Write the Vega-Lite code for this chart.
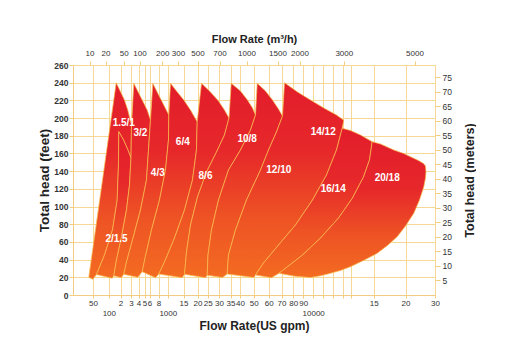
{
  "$schema": "https://vega.github.io/schema/vega-lite/v6.json",
  "width": 362,
  "height": 230,
  "padding": {"left": 37, "top": 33, "right": 0, "bottom": 10},
  "background": "white",
  "config": {
    "view": {"stroke": "#F2CC80", "strokeWidth": 1},
    "axis": {
      "gridColor": "#F6D896", "gridWidth": 1, "gridOpacity": 1,
      "domainColor": "#F2CC80", "tickColor": "#F2CC80",
      "labelColor": "#333333", "titleColor": "#222222",
      "labelFont": "Liberation Sans", "titleFont": "Liberation Sans",
      "titleFontWeight": "bold", "tickCount": 100, "labelOverlap": false
    }
  },
  "layer": [
    {
      "layer": [
        {
          "data": {"values": [
            {"model":"1.5/1","i":0,"gpm":44,"ft":20},{"model":"1.5/1","i":1,"gpm":163.2,"ft":240},{"model":"1.5/1","i":2,"gpm":200,"ft":229.8},{"model":"1.5/1","i":3,"gpm":238,"ft":220.4},{"model":"1.5/1","i":4,"gpm":269.5,"ft":209.1},{"model":"1.5/1","i":5,"gpm":288.6,"ft":199.7},{"model":"1.5/1","i":6,"gpm":306.7,"ft":192.2},{"model":"1.5/1","i":7,"gpm":300,"ft":154.9},{"model":"1.5/1","i":8,"gpm":266.7,"ft":165},{"model":"1.5/1","i":9,"gpm":228.6,"ft":175.2},{"model":"1.5/1","i":10,"gpm":185.5,"ft":184.6},{"model":"1.5/1","i":11,"gpm":182.9,"ft":147},{"model":"1.5/1","i":12,"gpm":171.8,"ft":107.4},{"model":"1.5/1","i":13,"gpm":131.6,"ft":73.5},{"model":"1.5/1","i":14,"gpm":86.4,"ft":45.2},{"model":"1.5/1","i":15,"gpm":61.1,"ft":23.2},{"model":"1.5/1","i":16,"gpm":49.7,"ft":17.7},{"model":"1.5/1","i":17,"gpm":44,"ft":20},
            {"model":"2/1.5","i":0,"gpm":61.1,"ft":23.2},{"model":"2/1.5","i":1,"gpm":86.4,"ft":45.2},{"model":"2/1.5","i":2,"gpm":131.6,"ft":73.5},{"model":"2/1.5","i":3,"gpm":171.8,"ft":107.4},{"model":"2/1.5","i":4,"gpm":182.9,"ft":147},{"model":"2/1.5","i":5,"gpm":185.5,"ft":184.6},{"model":"2/1.5","i":6,"gpm":228.6,"ft":175.2},{"model":"2/1.5","i":7,"gpm":266.7,"ft":165},{"model":"2/1.5","i":8,"gpm":300,"ft":154.9},{"model":"2/1.5","i":9,"gpm":285.7,"ft":124.3},{"model":"2/1.5","i":10,"gpm":257.1,"ft":96.1},{"model":"2/1.5","i":11,"gpm":209.5,"ft":65.6},{"model":"2/1.5","i":12,"gpm":165.8,"ft":39.6},{"model":"2/1.5","i":13,"gpm":142.7,"ft":21.8},{"model":"2/1.5","i":14,"gpm":129.1,"ft":18.9},{"model":"2/1.5","i":15,"gpm":61.1,"ft":23.2},
            {"model":"3/2","i":0,"gpm":142.7,"ft":21.8},{"model":"3/2","i":1,"gpm":165.8,"ft":39.6},{"model":"3/2","i":2,"gpm":209.5,"ft":65.6},{"model":"3/2","i":3,"gpm":257.1,"ft":96.1},{"model":"3/2","i":4,"gpm":285.7,"ft":124.3},{"model":"3/2","i":5,"gpm":300,"ft":154.9},{"model":"3/2","i":6,"gpm":306.7,"ft":192.2},{"model":"3/2","i":7,"gpm":337.3,"ft":239.3},{"model":"3/2","i":8,"gpm":382.7,"ft":231.7},{"model":"3/2","i":9,"gpm":461.7,"ft":220.4},{"model":"3/2","i":10,"gpm":554,"ft":209.1},{"model":"3/2","i":11,"gpm":622.2,"ft":197.8},{"model":"3/2","i":12,"gpm":580,"ft":163.9},{"model":"3/2","i":13,"gpm":540,"ft":130},{"model":"3/2","i":14,"gpm":433.3,"ft":96.1},{"model":"3/2","i":15,"gpm":320,"ft":62.2},{"model":"3/2","i":16,"gpm":257.1,"ft":37.3},{"model":"3/2","i":17,"gpm":231.4,"ft":23.4},{"model":"3/2","i":18,"gpm":206.7,"ft":19.6},{"model":"3/2","i":19,"gpm":142.7,"ft":21.8},
            {"model":"4/3","i":0,"gpm":231.4,"ft":23.4},{"model":"4/3","i":1,"gpm":257.1,"ft":37.3},{"model":"4/3","i":2,"gpm":320,"ft":62.2},{"model":"4/3","i":3,"gpm":433.3,"ft":96.1},{"model":"4/3","i":4,"gpm":540,"ft":130},{"model":"4/3","i":5,"gpm":580,"ft":163.9},{"model":"4/3","i":6,"gpm":622.2,"ft":197.8},{"model":"4/3","i":7,"gpm":673.3,"ft":239.3},{"model":"4/3","i":8,"gpm":784.4,"ft":228},{"model":"4/3","i":9,"gpm":914,"ft":214.8},{"model":"4/3","i":10,"gpm":1031.9,"ft":203.5},{"model":"4/3","i":11,"gpm":1022,"ft":175.2},{"model":"4/3","i":12,"gpm":950.5,"ft":141.3},{"model":"4/3","i":13,"gpm":821.5,"ft":107.4},{"model":"4/3","i":14,"gpm":644.4,"ft":73.5},{"model":"4/3","i":15,"gpm":520,"ft":44.1},{"model":"4/3","i":16,"gpm":461.7,"ft":26.3},{"model":"4/3","i":17,"gpm":390.7,"ft":20},{"model":"4/3","i":18,"gpm":231.4,"ft":23.4},
            {"model":"6/4","i":0,"gpm":461.7,"ft":26.3},{"model":"6/4","i":1,"gpm":520,"ft":44.1},{"model":"6/4","i":2,"gpm":644.4,"ft":73.5},{"model":"6/4","i":3,"gpm":821.5,"ft":107.4},{"model":"6/4","i":4,"gpm":950.5,"ft":141.3},{"model":"6/4","i":5,"gpm":1022,"ft":175.2},{"model":"6/4","i":6,"gpm":1031.9,"ft":203.5},{"model":"6/4","i":7,"gpm":1086,"ft":239.3},{"model":"6/4","i":8,"gpm":1277,"ft":230.6},{"model":"6/4","i":9,"gpm":1510.7,"ft":220.4},{"model":"6/4","i":10,"gpm":1750,"ft":209.1},{"model":"6/4","i":11,"gpm":1989,"ft":195.9},{"model":"6/4","i":12,"gpm":1964,"ft":163.9},{"model":"6/4","i":13,"gpm":1821,"ft":130},{"model":"6/4","i":14,"gpm":1535.7,"ft":96.1},{"model":"6/4","i":15,"gpm":1213,"ft":64.4},{"model":"6/4","i":16,"gpm":929,"ft":37.3},{"model":"6/4","i":17,"gpm":806.5,"ft":23.7},{"model":"6/4","i":18,"gpm":733.3,"ft":19.6},{"model":"6/4","i":19,"gpm":461.7,"ft":26.3},
            {"model":"8/6","i":0,"gpm":806.5,"ft":23.7},{"model":"8/6","i":1,"gpm":929,"ft":37.3},{"model":"8/6","i":2,"gpm":1213,"ft":64.4},{"model":"8/6","i":3,"gpm":1535.7,"ft":96.1},{"model":"8/6","i":4,"gpm":1821,"ft":130},{"model":"8/6","i":5,"gpm":1964,"ft":163.9},{"model":"8/6","i":6,"gpm":1989,"ft":195.9},{"model":"8/6","i":7,"gpm":2194,"ft":239.3},{"model":"8/6","i":8,"gpm":2620.5,"ft":229.5},{"model":"8/6","i":9,"gpm":2977.7,"ft":219.3},{"model":"8/6","i":10,"gpm":3239,"ft":209.1},{"model":"8/6","i":11,"gpm":3435,"ft":200.1},{"model":"8/6","i":12,"gpm":3239,"ft":180.9},{"model":"8/6","i":13,"gpm":2888,"ft":161.6},{"model":"8/6","i":14,"gpm":2437,"ft":139},{"model":"8/6","i":15,"gpm":2000,"ft":110.8},{"model":"8/6","i":16,"gpm":1750,"ft":79.1},{"model":"8/6","i":17,"gpm":1607,"ft":48.6},{"model":"8/6","i":18,"gpm":1535.7,"ft":23.4},{"model":"8/6","i":19,"gpm":1459,"ft":19.6},{"model":"8/6","i":20,"gpm":806.5,"ft":23.7},
            {"model":"10/8","i":0,"gpm":1535.7,"ft":23.4},{"model":"10/8","i":1,"gpm":1607,"ft":48.6},{"model":"10/8","i":2,"gpm":1750,"ft":79.1},{"model":"10/8","i":3,"gpm":2000,"ft":110.8},{"model":"10/8","i":4,"gpm":2437,"ft":139},{"model":"10/8","i":5,"gpm":2888,"ft":161.6},{"model":"10/8","i":6,"gpm":3239,"ft":180.9},{"model":"10/8","i":7,"gpm":3435,"ft":200.1},{"model":"10/8","i":8,"gpm":3537,"ft":239.3},{"model":"10/8","i":9,"gpm":4036,"ft":230.6},{"model":"10/8","i":10,"gpm":4543,"ft":220.4},{"model":"10/8","i":11,"gpm":4906,"ft":211.4},{"model":"10/8","i":12,"gpm":5113,"ft":203.5},{"model":"10/8","i":13,"gpm":4761,"ft":186.5},{"model":"10/8","i":14,"gpm":4036,"ft":163.9},{"model":"10/8","i":15,"gpm":3413,"ft":141.3},{"model":"10/8","i":16,"gpm":2977.7,"ft":107.4},{"model":"10/8","i":17,"gpm":2665,"ft":73.5},{"model":"10/8","i":18,"gpm":2509,"ft":45.2},{"model":"10/8","i":19,"gpm":2471,"ft":22.3},{"model":"10/8","i":20,"gpm":2388,"ft":19.6},{"model":"10/8","i":21,"gpm":1535.7,"ft":23.4},
            {"model":"12/10","i":0,"gpm":2471,"ft":22.3},{"model":"12/10","i":1,"gpm":2509,"ft":45.2},{"model":"12/10","i":2,"gpm":2665,"ft":73.5},{"model":"12/10","i":3,"gpm":2977.7,"ft":107.4},{"model":"12/10","i":4,"gpm":3413,"ft":141.3},{"model":"12/10","i":5,"gpm":4036,"ft":163.9},{"model":"12/10","i":6,"gpm":4761,"ft":186.5},{"model":"12/10","i":7,"gpm":5113,"ft":203.5},{"model":"12/10","i":8,"gpm":5227,"ft":239.3},{"model":"12/10","i":9,"gpm":5780,"ft":230.6},{"model":"12/10","i":10,"gpm":6291,"ft":220.4},{"model":"12/10","i":11,"gpm":6764,"ft":210.3},{"model":"12/10","i":12,"gpm":7085.5,"ft":202.3},{"model":"12/10","i":13,"gpm":6606,"ft":184.3},{"model":"12/10","i":14,"gpm":5980,"ft":163.9},{"model":"12/10","i":15,"gpm":5447,"ft":141.3},{"model":"12/10","i":16,"gpm":4471,"ft":107.4},{"model":"12/10","i":17,"gpm":3763,"ft":73.5},{"model":"12/10","i":18,"gpm":3413,"ft":45.2},{"model":"12/10","i":19,"gpm":3356,"ft":23.7},{"model":"12/10","i":20,"gpm":3152,"ft":19.8},{"model":"12/10","i":21,"gpm":2471,"ft":22.3},
            {"model":"14/12","i":0,"gpm":3356,"ft":23.7},{"model":"14/12","i":1,"gpm":3413,"ft":45.2},{"model":"14/12","i":2,"gpm":3763,"ft":73.5},{"model":"14/12","i":3,"gpm":4471,"ft":107.4},{"model":"14/12","i":4,"gpm":5447,"ft":141.3},{"model":"14/12","i":5,"gpm":5980,"ft":163.9},{"model":"14/12","i":6,"gpm":6606,"ft":184.3},{"model":"14/12","i":7,"gpm":7085.5,"ft":202.3},{"model":"14/12","i":8,"gpm":7256,"ft":240},{"model":"14/12","i":9,"gpm":8430,"ft":229.5},{"model":"14/12","i":10,"gpm":9730,"ft":220.4},{"model":"14/12","i":11,"gpm":11230,"ft":210.3},{"model":"14/12","i":12,"gpm":12330,"ft":203.5},{"model":"14/12","i":13,"gpm":13075,"ft":197.5},{"model":"14/12","i":14,"gpm":12900,"ft":188.4},{"model":"14/12","i":15,"gpm":12330,"ft":163.9},{"model":"14/12","i":16,"gpm":11330,"ft":135.6},{"model":"14/12","i":17,"gpm":9930,"ft":107.4},{"model":"14/12","i":18,"gpm":8230,"ft":79.1},{"model":"14/12","i":19,"gpm":6764,"ft":56.5},{"model":"14/12","i":20,"gpm":5647,"ft":36.2},{"model":"14/12","i":21,"gpm":5247,"ft":26},{"model":"14/12","i":22,"gpm":5113,"ft":22.6},{"model":"14/12","i":23,"gpm":5000,"ft":19.8},{"model":"14/12","i":24,"gpm":3356,"ft":23.7},
            {"model":"16/14","i":0,"gpm":5113,"ft":22.6},{"model":"16/14","i":1,"gpm":5247,"ft":26},{"model":"16/14","i":2,"gpm":5647,"ft":36.2},{"model":"16/14","i":3,"gpm":6764,"ft":56.5},{"model":"16/14","i":4,"gpm":8230,"ft":79.1},{"model":"16/14","i":5,"gpm":9930,"ft":107.4},{"model":"16/14","i":6,"gpm":11330,"ft":135.6},{"model":"16/14","i":7,"gpm":12330,"ft":163.9},{"model":"16/14","i":8,"gpm":12900,"ft":188.4},{"model":"16/14","i":9,"gpm":13912.5,"ft":186},{"model":"16/14","i":10,"gpm":14411.5,"ft":180.9},{"model":"16/14","i":11,"gpm":14929,"ft":173.3},{"model":"16/14","i":12,"gpm":14810,"ft":152.6},{"model":"16/14","i":13,"gpm":14544,"ft":133.4},{"model":"16/14","i":14,"gpm":14057.5,"ft":109.6},{"model":"16/14","i":15,"gpm":12530,"ft":87},{"model":"16/14","i":16,"gpm":10730,"ft":64.4},{"model":"16/14","i":17,"gpm":8930,"ft":45.2},{"model":"16/14","i":18,"gpm":7598,"ft":32.8},{"model":"16/14","i":19,"gpm":6803,"ft":24.5},{"model":"16/14","i":20,"gpm":6213,"ft":19.6},{"model":"16/14","i":21,"gpm":5113,"ft":22.6},
            {"model":"20/18","i":0,"gpm":6803,"ft":24.5},{"model":"20/18","i":1,"gpm":7598,"ft":32.8},{"model":"20/18","i":2,"gpm":8930,"ft":45.2},{"model":"20/18","i":3,"gpm":10730,"ft":64.4},{"model":"20/18","i":4,"gpm":12530,"ft":87},{"model":"20/18","i":5,"gpm":14057.5,"ft":109.6},{"model":"20/18","i":6,"gpm":14544,"ft":133.4},{"model":"20/18","i":7,"gpm":14810,"ft":152.6},{"model":"20/18","i":8,"gpm":14929,"ft":173.3},{"model":"20/18","i":9,"gpm":16057,"ft":170.7},{"model":"20/18","i":10,"gpm":18154,"ft":163.9},{"model":"20/18","i":11,"gpm":19732,"ft":160},{"model":"20/18","i":12,"gpm":21695,"ft":156.3},{"model":"20/18","i":13,"gpm":24407,"ft":152},{"model":"20/18","i":14,"gpm":26102,"ft":148.6},{"model":"20/18","i":15,"gpm":26780,"ft":145.8},{"model":"20/18","i":16,"gpm":26949,"ft":139},{"model":"20/18","i":17,"gpm":26780,"ft":132.3},{"model":"20/18","i":18,"gpm":26203,"ft":122.4},{"model":"20/18","i":19,"gpm":24746,"ft":107.4},{"model":"20/18","i":20,"gpm":22814,"ft":92.4},{"model":"20/18","i":21,"gpm":20000,"ft":78},{"model":"20/18","i":22,"gpm":18690,"ft":65.9},{"model":"20/18","i":23,"gpm":17160,"ft":56},{"model":"20/18","i":24,"gpm":15536,"ft":47.1},{"model":"20/18","i":25,"gpm":14544,"ft":39},{"model":"20/18","i":26,"gpm":13912.5,"ft":32},{"model":"20/18","i":27,"gpm":12730,"ft":27.7},{"model":"20/18","i":28,"gpm":11730,"ft":24.5},{"model":"20/18","i":29,"gpm":10730,"ft":21.7},{"model":"20/18","i":30,"gpm":9730,"ft":19.8},{"model":"20/18","i":31,"gpm":8230,"ft":21.1},{"model":"20/18","i":32,"gpm":7342,"ft":23.1},{"model":"20/18","i":33,"gpm":6803,"ft":24.5}
          ]},
          "mark": {
            "type": "line",
            "fill": {"gradient": "linear", "x1": 0, "y1": 0, "x2": 0, "y2": 1,
              "stops": [
                {"offset": 0, "color": "#E21D2B"},
                {"offset": 0.35, "color": "#E6282A"},
                {"offset": 0.7, "color": "#EE5424"},
                {"offset": 1, "color": "#F36B21"}
              ]},
            "stroke": "#F9BC4C",
            "strokeWidth": 0.7,
            "strokeJoin": "round"
          },
          "encoding": {
            "x": {
              "field": "gpm", "type": "quantitative",
              "scale": {
                "type": "linear", "nice": false, "zero": false,
                "domain": [21.5,50,100,200,300,400,500,600,800,1000,1500,2000,2500,3000,3500,4000,5000,6000,7000,8000,9000,10000,11000,12000,13000,14000,15000,20000,30000],
                "range": [0,20,35.8,47.5,58,65.5,71.5,76.5,85.5,94.8,110.5,124.5,134.8,146,157.5,167,180.8,195.8,208.5,220.2,230.2,240.2,250.2,260.2,270.2,278.2,300.8,332.5,362]
              },
              "axis": {
                "orient": "bottom",
                "values": [50,100,200,300,400,500,600,800,1000,1500,2000,2500,3000,3500,4000,5000,6000,7000,8000,9000,10000,11000,12000,13000,14000,15000,20000,30000],
                "labelExpr": "datum.value == 100 ? ['', '100'] : datum.value == 1000 ? ['', '1000'] : datum.value == 10000 ? ['', '10000'] : (datum.value > 10000 && datum.value < 15000) ? '' : datum.value < 100 ? '' + datum.value : datum.value < 10000 ? '' + (datum.value / 100) : '' + (datum.value / 1000)",
                "title": "Flow Rate(US gpm)",
                "titleFontSize": 12,
                "titlePadding": 3,
                "labelFontSize": 8,
                "labelLineHeight": 10,
                "labelPadding": 1,
                "tickSize": 3,
                "labelFlush": false,
                "labelBound": false,
                "grid": true
              }
            },
            "y": {
              "field": "ft", "type": "quantitative",
              "scale": {"domain": [0, 260], "nice": false},
              "axis": {
                "orient": "left",
                "values": [0,20,40,60,80,100,120,140,160,180,200,220,240,260],
                "title": "Total head (feet)",
                "titleFontSize": 13.5,
                "titlePadding": 2,
                "labelFontSize": 8.5,
                "labelFontWeight": "bold",
                "labelPadding": 1,
                "tickSize": 4,
                "minExtent": 19.5,
                "maxExtent": 19.5,
                "grid": true
              }
            },
            "detail": {"field": "model"},
            "order": {"field": "i"}
          }
        },
        {
          "data": {"values": [
            {"label":"1.5/1","gpm":231,"ft":194.8},
            {"label":"3/2","gpm":433,"ft":182.8},
            {"label":"6/4","gpm":1478,"ft":172.6},
            {"label":"10/8","gpm":4522,"ft":176},
            {"label":"14/12","gpm":11000,"ft":184.6},
            {"label":"4/3","gpm":784,"ft":137.6},
            {"label":"8/6","gpm":2388,"ft":134.9},
            {"label":"12/10","gpm":6787,"ft":141.3},
            {"label":"16/14","gpm":12000,"ft":119.5},
            {"label":"20/18","gpm":17113,"ft":132.6},
            {"label":"2/1.5","gpm":166,"ft":63}
          ]},
          "mark": {"type": "text", "font": "Liberation Sans", "fontWeight": "bold", "fontSize": 10, "fill": "white", "align": "center", "baseline": "middle"},
          "encoding": {
            "x": {"field": "gpm", "type": "quantitative"},
            "y": {"field": "ft", "type": "quantitative"},
            "text": {"field": "label"}
          }
        }
      ]
    },
    {
      "data": {"values": [{"q":10},{"q":20},{"q":50},{"q":100},{"q":200},{"q":300},{"q":500},{"q":700},{"q":1000},{"q":1500},{"q":2000},{"q":3000},{"q":5000}]},
      "mark": {"type": "point", "opacity": 0},
      "encoding": {
        "x": {
          "field": "q", "type": "quantitative",
          "scale": {
            "type": "linear", "nice": false, "zero": false,
            "domain": [4.9,10,20,50,100,200,300,500,700,1000,1500,2000,3000,5000,5580],
            "range": [0,16.5,32.5,50.8,66.5,89.2,105,124.5,146.5,173.5,204.5,226.5,270.8,341.5,362]
          },
          "axis": {
            "orient": "top",
            "values": [10,20,50,100,200,300,500,700,1000,1500,2000,3000,5000],
            "format": "d",
            "title": "Flow Rate (m³/h)",
            "titleFontSize": 11,
            "titlePadding": 5,
            "labelFontSize": 8,
            "labelPadding": 4,
            "tickSize": 4,
            "domain": false,
            "grid": false
          }
        }
      }
    },
    {
      "data": {"values": [{"m":5},{"m":10},{"m":15},{"m":20},{"m":25},{"m":30},{"m":35},{"m":40},{"m":45},{"m":50},{"m":55},{"m":60},{"m":65},{"m":70},{"m":75}]},
      "mark": {"type": "point", "opacity": 0},
      "encoding": {
        "y": {
          "field": "m", "type": "quantitative",
          "scale": {"domain": [0, 79.248], "nice": false},
          "axis": {
            "orient": "right",
            "values": [5,10,15,20,25,30,35,40,45,50,55,60,65,70,75],
            "title": "Total head (meters)",
            "titleAngle": 270,
            "titleFontSize": 12.5,
            "titlePadding": 25,
            "labelFontSize": 8.5,
            "labelPadding": 2,
            "tickSize": 5,
            "domain": false,
            "grid": false
          }
        }
      }
    }
  ],
  "resolve": {"scale": {"x": "independent", "y": "independent"}}
}
